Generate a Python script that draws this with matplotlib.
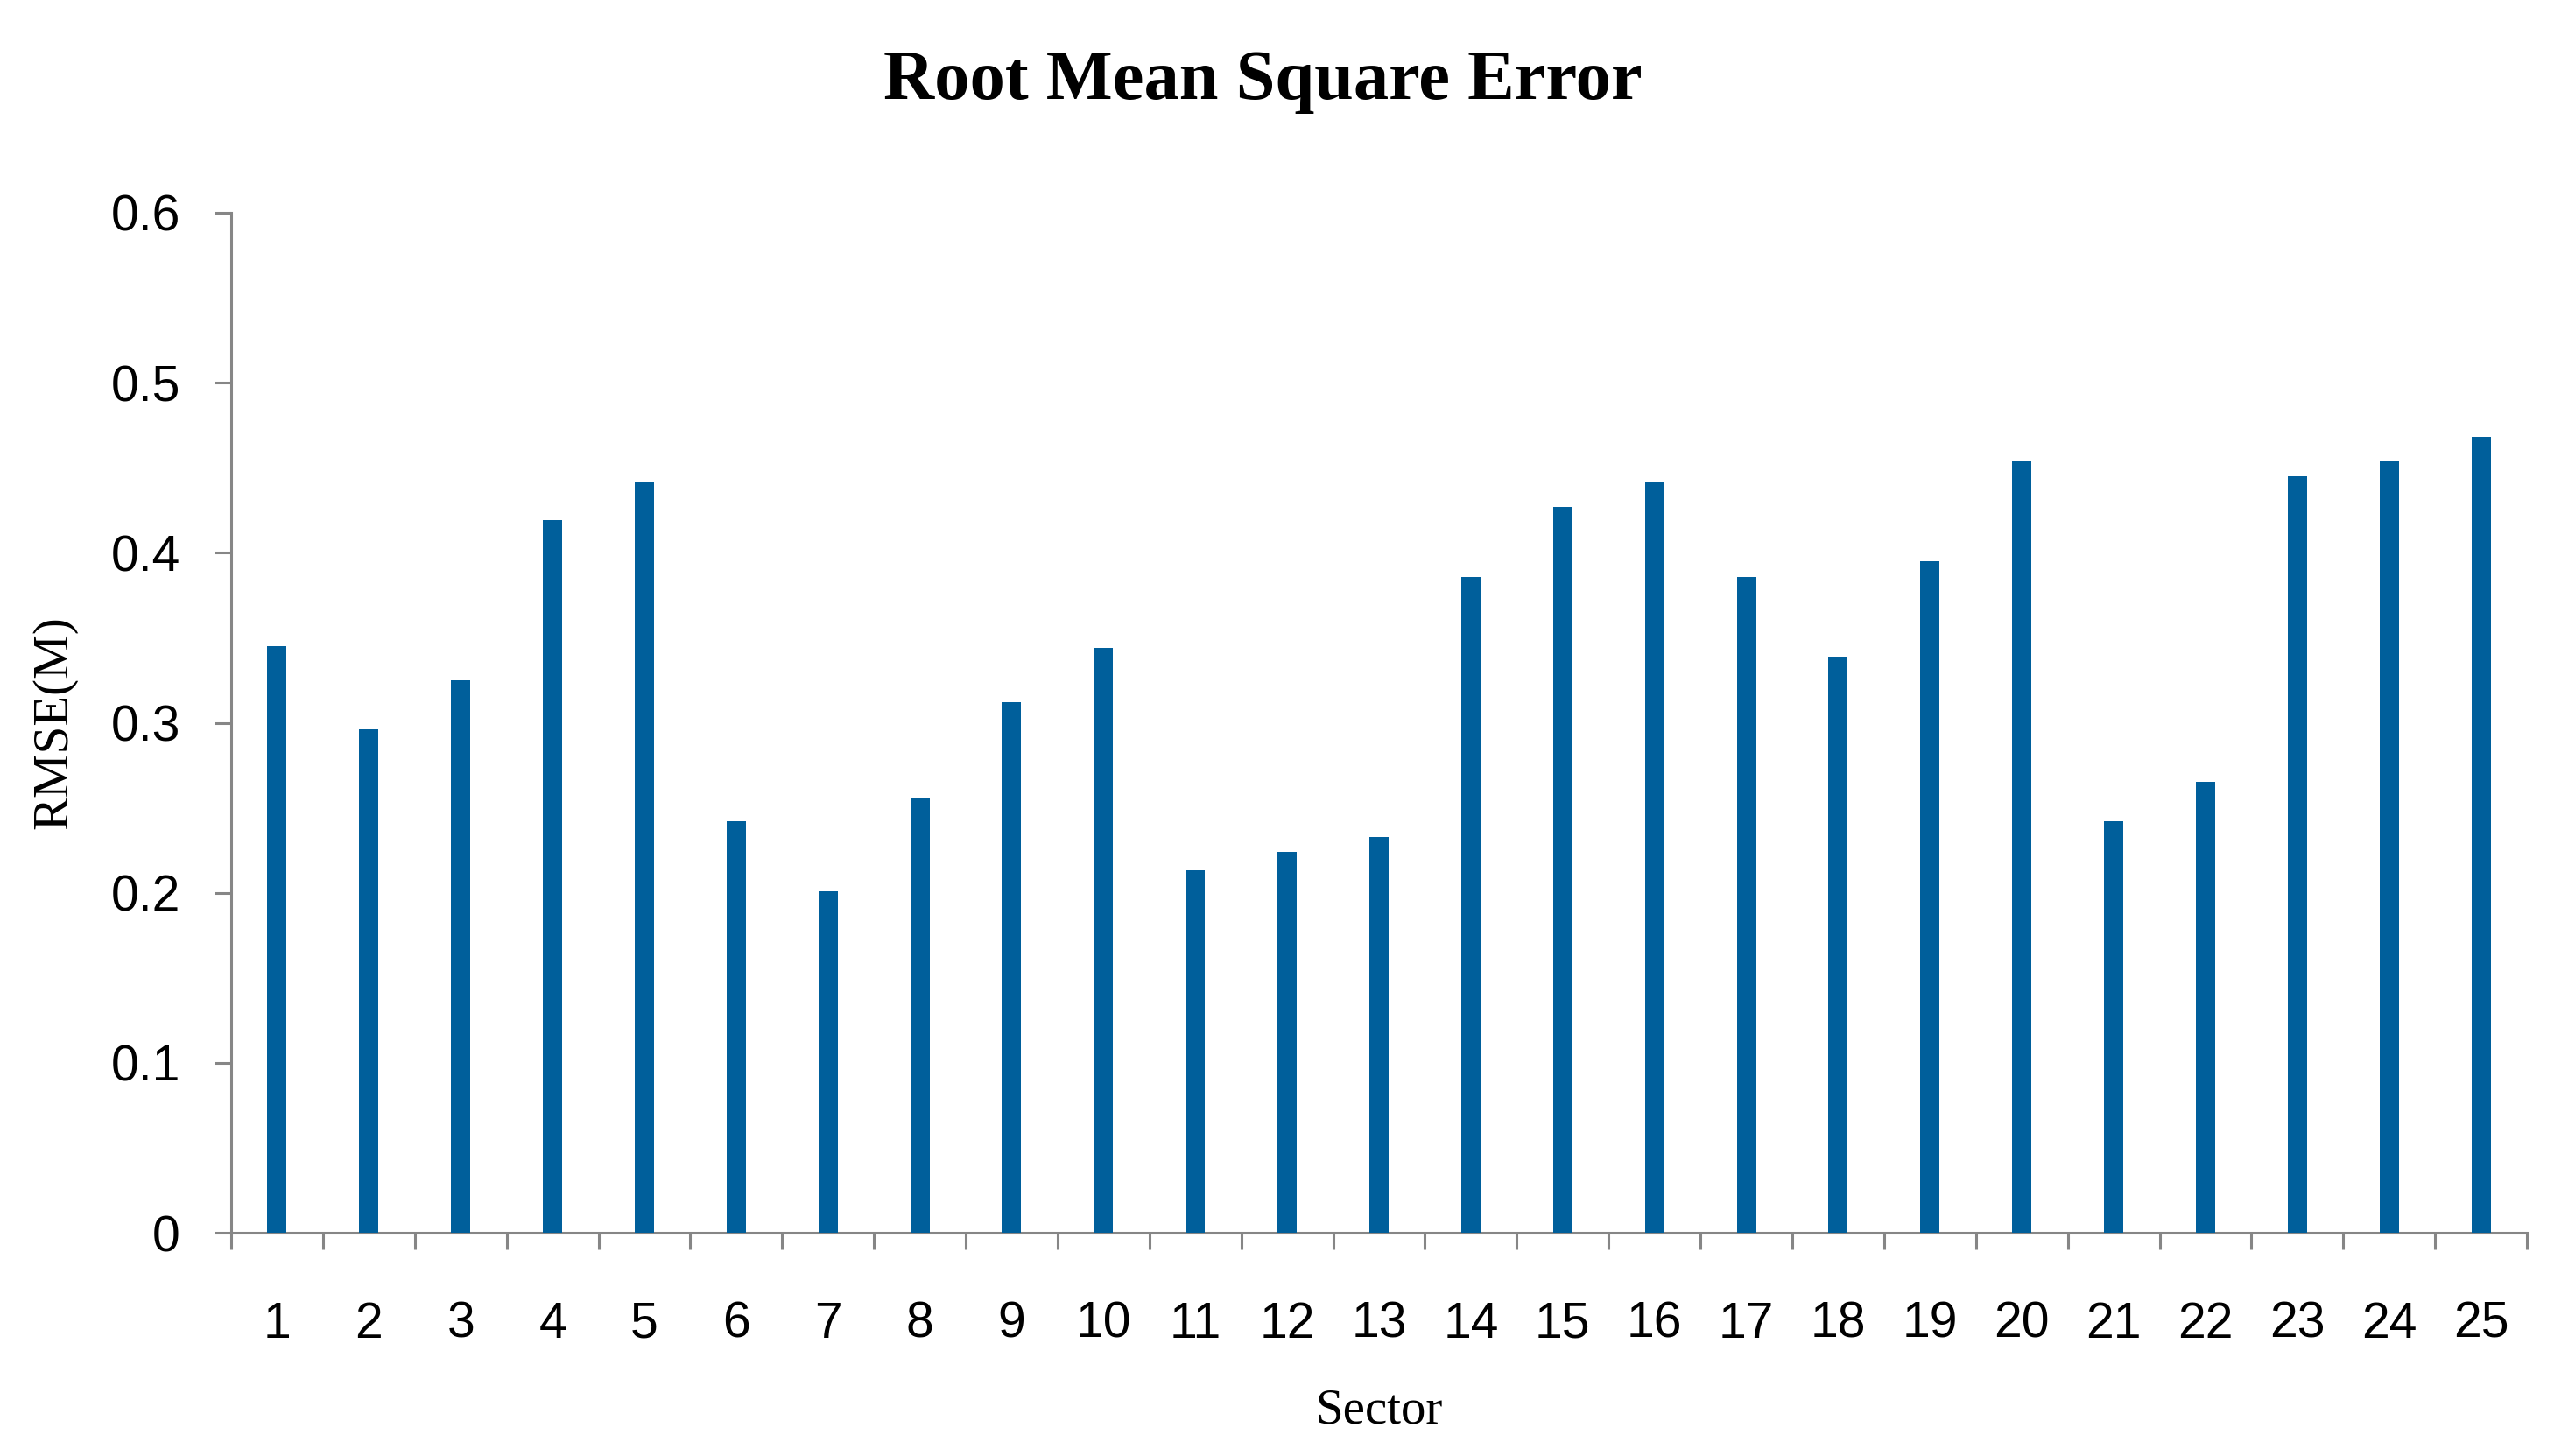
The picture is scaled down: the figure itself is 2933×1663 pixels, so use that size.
import matplotlib
matplotlib.use("Agg")
import matplotlib.pyplot as plt
import numpy as np

# RMSE per sector
sectors = list(range(1, 26))
rmse = [0.345, 0.296, 0.325, 0.419, 0.442, 0.242, 0.201, 0.256, 0.312, 0.344,
        0.213, 0.224, 0.233, 0.386, 0.427, 0.442, 0.386, 0.339, 0.395, 0.454,
        0.242, 0.265, 0.445, 0.454, 0.468]
yticks = [0, 0.1, 0.2, 0.3, 0.4, 0.5, 0.6]
ytick_labels = ["0", "0.1", "0.2", "0.3", "0.4", "0.5", "0.6"]

bar_color = "#005f9b"
axis_color = "#868686"
sans = ["Liberation Sans", "DejaVu Sans"]
serif = ["Liberation Serif", "DejaVu Serif"]

fig = plt.figure(figsize=(29.33, 16.63), dpi=100)
ax = fig.add_axes([0.090, 0.1533, 0.894, 0.7006])

ax.bar(sectors, rmse, width=0.21, color=bar_color, zorder=3)

ax.set_xlim(0.5, 25.5)
ax.set_ylim(0, 0.6)

# labels at the centres, tick marks on the category boundaries
ax.set_xticks(sectors)
ax.set_xticklabels([str(s) for s in sectors], family=sans, fontsize=41)
ax.set_xticks(np.arange(0.5, 26, 1), minor=True)
ax.tick_params(axis="x", which="major", length=0, pad=56)
ax.tick_params(axis="x", which="minor", length=14, width=2.2, color=axis_color)

ax.set_yticks(yticks)
ax.set_yticklabels(ytick_labels, family=sans, fontsize=41)
ax.tick_params(axis="y", length=14, width=2.2, color=axis_color, pad=28)

for side in ["top", "right"]:
    ax.spines[side].set_visible(False)
for side in ["left", "bottom"]:
    ax.spines[side].set_color(axis_color)
    ax.spines[side].set_linewidth(2.2)

ax.set_xlabel("Sector", family=serif, fontsize=41)
ax.xaxis.set_label_coords(0.5, -0.152)
ax.set_ylabel("RMSE(M)", family=serif, fontsize=41)
ax.yaxis.set_label_coords(-0.067, 0.5)

fig.text(0.4917, 0.966, "Root Mean Square Error", family=serif, fontsize=58,
         fontweight="bold", ha="center", va="top")

fig.savefig("out.png", dpi=100, facecolor="white")
